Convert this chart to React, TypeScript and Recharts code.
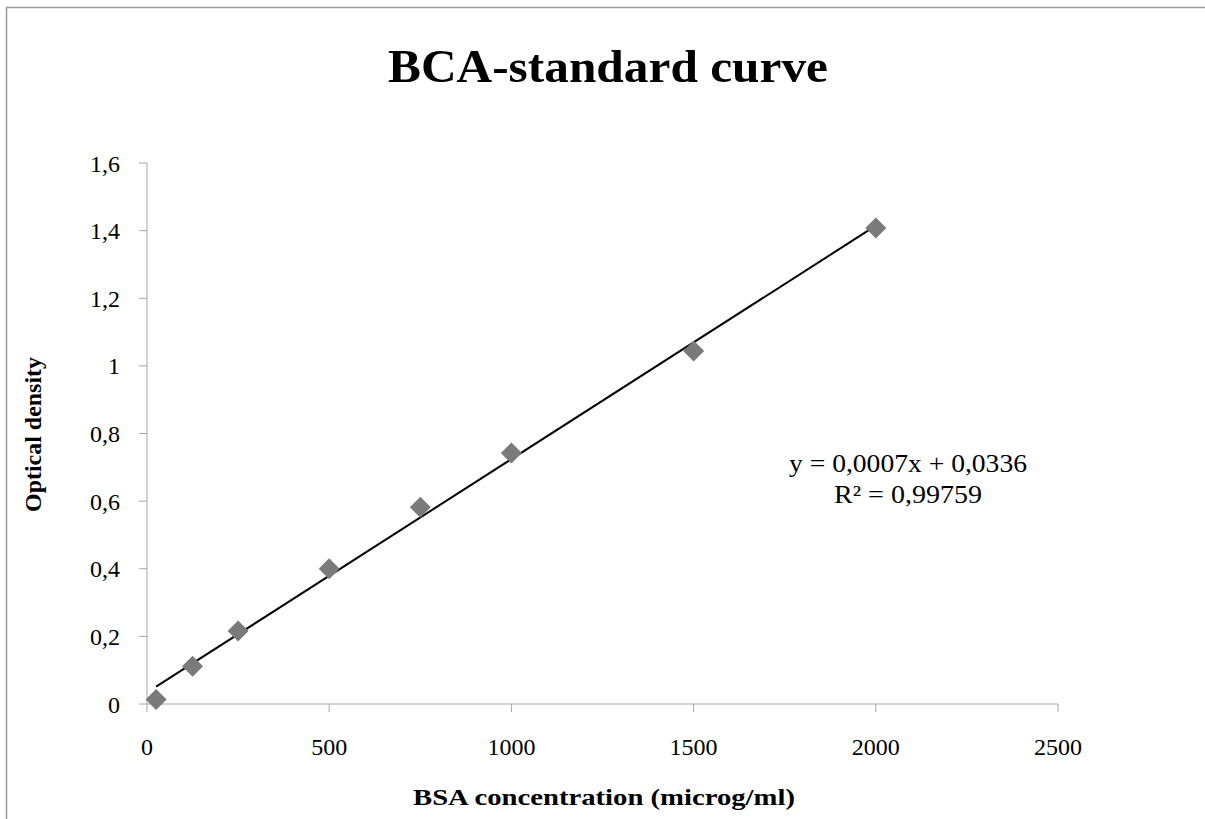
import React from 'react';
import { ScatterChart, Scatter, XAxis, YAxis, ReferenceLine } from 'recharts';

const concentrations = [25, 125, 250, 500, 750, 1000, 1500, 2000];
const densities = [0.013, 0.112, 0.216, 0.4, 0.582, 0.742, 1.044, 1.408];
const xTicks = [0, 500, 1000, 1500, 2000, 2500];
const yTicks = [0, 0.2, 0.4, 0.6, 0.8, 1, 1.2, 1.4, 1.6];
const titleText = 'BCA-standard curve';
const xLabel = 'BSA concentration (microg/ml)';
const yLabel = 'Optical density';
const equationLines = ['y = 0,0007x + 0,0336', 'R² = 0,99759'];

const data = concentrations.map((x, i) => ({ x, y: densities[i] }));

// least-squares trendline from the data
const n = data.length;
const mx = concentrations.reduce((a, b) => a + b, 0) / n;
const my = densities.reduce((a, b) => a + b, 0) / n;
let sxy = 0;
let sxx = 0;
data.forEach((d) => {
  sxy += (d.x - mx) * (d.y - my);
  sxx += (d.x - mx) * (d.x - mx);
});
const slope = sxy / sxx;
const intercept = my - slope * mx;
const xMin = Math.min(...concentrations);
const xMax = Math.max(...concentrations);

const FONT = '"Liberation Serif", "DejaVu Serif", serif';
const AXIS_COLOR = '#a6a6a6';

const Diamond = (props: any) => {
  const { cx, cy } = props;
  const r = 10.5;
  return (
    <polygon
      points={`${cx},${cy - r} ${cx + r},${cy} ${cx},${cy + r} ${cx - r},${cy}`}
      fill="#7a7a7a"
    />
  );
};

const fmt = (v: number) => String(Math.round(v * 10) / 10).replace('.', ',');

export default function App() {
  return (
    <div style={{ position: 'absolute', left: 0, top: 0, width: 1205, height: 819, background: '#fff', fontFamily: FONT }}>
      <ScatterChart
        width={1205}
        height={819}
        margin={{ top: 163, right: 147, left: 47, bottom: 0 }}
      >
        <XAxis
          type="number"
          dataKey="x"
          domain={[0, 2500]}
          ticks={xTicks}
          height={115}
          stroke={AXIS_COLOR}
          tickSize={8}
          tickMargin={26}
          tick={{ fill: '#000', fontSize: 24, fontFamily: FONT }}
        />
        <YAxis
          type="number"
          dataKey="y"
          domain={[0, 1.6]}
          ticks={yTicks}
          width={100}
          stroke={AXIS_COLOR}
          tickSize={8}
          tickMargin={19}
          tickFormatter={fmt}
          tick={{ fill: '#000', fontSize: 24, fontFamily: FONT }}
        />
        <ReferenceLine
          segment={[
            { x: xMin, y: intercept + slope * xMin },
            { x: xMax, y: intercept + slope * xMax },
          ]}
          stroke="#000"
          strokeWidth={2}
        />
        <Scatter data={data} shape={<Diamond />} isAnimationActive={false} />
      </ScatterChart>
      <svg
        width={1205}
        height={819}
        style={{ position: 'absolute', left: 0, top: 0, pointerEvents: 'none' }}
      >
        <polyline points="6.5,819 6.5,7.5 1205,7.5" fill="none" stroke="#999" strokeWidth={1.5} />
        <text x={388} y={82} textLength={440} lengthAdjust="spacingAndGlyphs" fontSize={47} fontWeight="bold" fontFamily={FONT} fill="#000">
          {titleText}
        </text>
        <text x={413} y={805} textLength={382} lengthAdjust="spacingAndGlyphs" fontSize={24} fontWeight="bold" fontFamily={FONT} fill="#000">
          {xLabel}
        </text>
        <text
          x={0}
          y={0}
          transform="translate(41,512) rotate(-90)"
          textLength={155}
          lengthAdjust="spacingAndGlyphs"
          fontSize={23}
          fontWeight="bold"
          fontFamily={FONT}
          fill="#000"
        >
          {yLabel}
        </text>
        <text x={789} y={472} textLength={238} lengthAdjust="spacingAndGlyphs" fontSize={25} fontFamily={FONT} fill="#000">
          {equationLines[0]}
        </text>
        <text x={834} y={503} textLength={148} lengthAdjust="spacingAndGlyphs" fontSize={25} fontFamily={FONT} fill="#000">
          {equationLines[1]}
        </text>
      </svg>
    </div>
  );
}
